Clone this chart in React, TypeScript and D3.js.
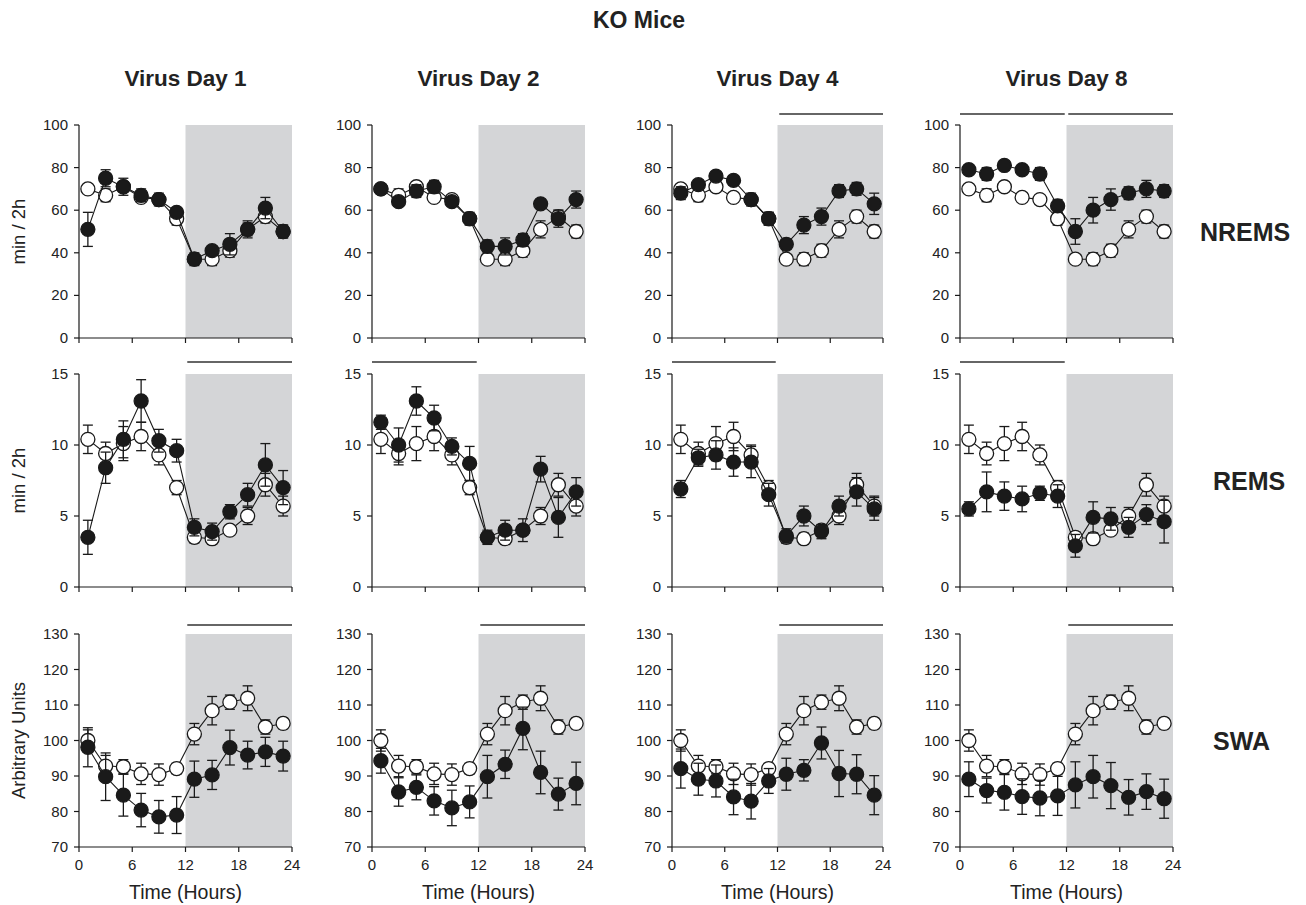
import React from 'react';
import * as d3 from 'd3';

// time bins (mid-point of each 2 h block)
const hours = [1, 3, 5, 7, 9, 11, 13, 15, 17, 19, 21, 23];
const xTicks = [0, 6, 12, 18, 24];
const dayTitles = ['Virus Day 1', 'Virus Day 2', 'Virus Day 4', 'Virus Day 8'];

// NREMS, min / 2h
const nremsBase = [70, 67, 71, 66, 65, 56, 37, 37, 41, 51, 57, 50];
const nremsBaseErr = [2, 3, 2, 2, 2, 3, 2, 3, 3, 4, 3, 3];
const nremsDay1 = [51, 75, 71, 67, 65, 59, 37, 41, 44, 51, 61, 50];
const nremsDay1Err = [8, 4, 4, 3, 3, 2, 3, 2, 5, 3, 5, 3];
const nremsDay2 = [70, 64, 69, 71, 64, 56, 43, 43, 46, 63, 56, 65];
const nremsDay2Err = [2, 2, 3, 3, 2, 2, 3, 4, 3, 2, 4, 4];
const nremsDay4 = [68, 72, 76, 74, 65, 56, 44, 53, 57, 69, 70, 63];
const nremsDay4Err = [3, 2, 2, 2, 3, 3, 2, 4, 4, 3, 3, 5];
const nremsDay8 = [79, 77, 81, 79, 77, 62, 50, 60, 65, 68, 70, 69];
const nremsDay8Err = [2, 3, 2, 2, 3, 3, 6, 6, 5, 3, 4, 3];

// REMS, min / 2h
const remsBase = [10.4, 9.4, 10.1, 10.6, 9.3, 7.0, 3.5, 3.4, 4.0, 5.0, 7.2, 5.7];
const remsBaseErr = [1.0, 0.8, 1.2, 1.0, 0.7, 0.5, 0.4, 0.4, 0.3, 0.6, 0.8, 0.7];
const remsDay1 = [3.5, 8.4, 10.4, 13.1, 10.3, 9.6, 4.2, 3.9, 5.3, 6.5, 8.6, 7.0];
const remsDay1Err = [1.2, 1.1, 1.3, 1.5, 0.8, 0.8, 0.6, 0.6, 0.5, 0.8, 1.5, 1.2];
const remsDay2 = [11.6, 10.0, 13.1, 11.9, 9.9, 8.7, 3.5, 4.0, 4.0, 8.3, 4.9, 6.7];
const remsDay2Err = [0.5, 1.2, 1.0, 0.9, 0.6, 1.2, 0.5, 0.7, 0.8, 0.9, 1.4, 1.0];
const remsDay4 = [6.9, 9.1, 9.3, 8.8, 8.8, 6.5, 3.6, 5.0, 3.9, 5.7, 6.7, 5.5];
const remsDay4Err = [0.6, 0.6, 1.0, 1.0, 1.1, 0.8, 0.5, 0.7, 0.5, 0.7, 1.0, 0.8];
const remsDay8 = [5.5, 6.7, 6.4, 6.2, 6.6, 6.4, 2.9, 4.9, 4.8, 4.2, 5.1, 4.6];
const remsDay8Err = [0.5, 1.4, 1.0, 0.9, 0.5, 0.8, 0.8, 1.1, 0.8, 0.7, 0.7, 1.5];

// SWA, arbitrary units
const swaBase = [100, 92.8, 92.6, 90.6, 90.4, 92.1, 101.8, 108.4, 110.8, 111.9, 103.8, 104.8];
const swaBaseErr = [3, 3, 2, 3, 3, 1.5, 3, 4, 2, 3.5, 2, 1.5];
const swaDay1 = [98.1, 89.8, 84.6, 80.4, 78.5, 79.0, 89.1, 90.3, 98.0, 95.9, 96.8, 95.6];
const swaDay1Err = [5.5, 6.7, 5.9, 4.7, 4.6, 5.2, 5.1, 4.1, 4.9, 3.9, 4.1, 4.2];
const swaDay2 = [94.3, 85.5, 86.8, 83.0, 81.0, 82.7, 89.8, 93.3, 103.4, 91.0, 84.9, 87.9];
const swaDay2Err = [3.5, 4, 3.5, 4, 5, 4.5, 6, 4, 6, 6, 4.5, 6];
const swaDay4 = [92.1, 89.1, 88.6, 84.1, 82.9, 88.6, 90.5, 91.6, 99.3, 90.7, 90.5, 84.6];
const swaDay4Err = [5.5, 4.5, 4.5, 5, 5, 3.5, 4.5, 3, 4.5, 6.5, 5.5, 5.5];
const swaDay8 = [89.1, 85.9, 85.4, 84.2, 83.8, 84.4, 87.5, 89.8, 87.3, 84.0, 85.6, 83.6];
const swaDay8Err = [4.9, 3.5, 5, 5, 5, 5.5, 6.5, 6, 6.5, 5, 5, 5.5];

// significance bars (hours) per day column
const nremsSig = [[], [], [[12.2, 24]], [[0, 11.8], [12.2, 24]]];
const remsSig = [[[12.2, 24]], [[0, 11.8]], [[0, 11.8]], [[0, 11.8]]];
const swaSig = [[[12.2, 24]], [[12.2, 24]], [[12.2, 24]], [[12.2, 24]]];

const rows = [
  {
    label: 'NREMS', labelX: 1200, yLabel: 'min / 2h', domain: [0, 100], ticks: [0, 20, 40, 60, 80, 100],
    base: nremsBase, baseErr: nremsBaseErr,
    virus: [nremsDay1, nremsDay2, nremsDay4, nremsDay8],
    virusErr: [nremsDay1Err, nremsDay2Err, nremsDay4Err, nremsDay8Err],
    sig: nremsSig
  },
  {
    label: 'REMS', labelX: 1213, yLabel: 'min / 2h', domain: [0, 15], ticks: [0, 5, 10, 15],
    base: remsBase, baseErr: remsBaseErr,
    virus: [remsDay1, remsDay2, remsDay4, remsDay8],
    virusErr: [remsDay1Err, remsDay2Err, remsDay4Err, remsDay8Err],
    sig: remsSig
  },
  {
    label: 'SWA', labelX: 1213, yLabel: 'Arbitrary Units', domain: [70, 130], ticks: [70, 80, 90, 100, 110, 120, 130],
    base: swaBase, baseErr: swaBaseErr,
    virus: [swaDay1, swaDay2, swaDay4, swaDay8],
    virusErr: [swaDay1Err, swaDay2Err, swaDay4Err, swaDay8Err],
    sig: swaSig
  }
];

const colLeft = [79, 372, 672, 960];
const colWidth = [213, 213, 211, 213];
const rowTop = [125, 374, 634];
const plotH = 213;
const sigY = [114, 362, 625];

const font = 'Arial, "Liberation Sans", Helvetica, sans-serif';
const ink = '#1a1a1a';

function Series({ values, errs, x, y, filled }) {
  const line = d3.line<number>().x((d, i) => x(hours[i])).y(d => y(d));
  return (
    <g>
      <path d={line(values)!} fill="none" stroke={ink} strokeWidth={1.1} />
      {values.map((v, i) => {
        const cx = x(hours[i]);
        const top = y(v + errs[i]);
        const bot = y(v - errs[i]);
        return (
          <g key={'e' + i} stroke={ink} strokeWidth={1.3}>
            <line x1={cx} x2={cx} y1={top} y2={bot} />
            <line x1={cx - 5} x2={cx + 5} y1={top} y2={top} />
            <line x1={cx - 5} x2={cx + 5} y1={bot} y2={bot} />
          </g>
        );
      })}
      {values.map((v, i) => (
        <circle
          key={'c' + i}
          cx={x(hours[i])}
          cy={y(v)}
          r={7}
          fill={filled ? ink : '#fff'}
          stroke={ink}
          strokeWidth={1.3}
        />
      ))}
    </g>
  );
}

function Panel({ row, r, c }) {
  const left = colLeft[c];
  const w = colWidth[c];
  const top = rowTop[r];
  const x = d3.scaleLinear().domain([0, 24]).range([left, left + w]);
  const y = d3.scaleLinear().domain(row.domain).range([top + plotH, top]);
  const bottom = top + plotH;
  return (
    <g>
      <rect x={x(12)} y={top} width={x(24) - x(12)} height={plotH} fill="#d4d5d7" />
      {row.sig[c].map((s, i) => (
        <line key={i} x1={x(s[0])} x2={x(s[1])} y1={sigY[r]} y2={sigY[r]} stroke="#333" strokeWidth={1.6} />
      ))}
      {/* y axis */}
      <line x1={left} x2={left} y1={top} y2={bottom} stroke={ink} strokeWidth={1.2} />
      {row.ticks.map(t => (
        <g key={t}>
          <line x1={left - 5} x2={left} y1={y(t)} y2={y(t)} stroke={ink} strokeWidth={1.2} />
          <text x={left - 11} y={y(t) + 5} textAnchor="end" fontSize={15} fontFamily={font} fill="#222">
            {t}
          </text>
        </g>
      ))}
      {/* x axis */}
      <line x1={left} x2={x(24)} y1={bottom} y2={bottom} stroke={ink} strokeWidth={1.2} />
      {xTicks.map(t => (
        <g key={t}>
          <line x1={x(t)} x2={x(t)} y1={bottom} y2={bottom + 5} stroke={ink} strokeWidth={1.2} />
          {r === 2 && (
            <text x={x(t)} y={bottom + 23} textAnchor="middle" fontSize={15} fontFamily={font} fill="#222">
              {t}
            </text>
          )}
        </g>
      ))}
      {r === 2 && (
        <text x={x(12)} y={bottom + 52} textAnchor="middle" fontSize={19.5} fontFamily={font} fill="#222">
          Time (Hours)
        </text>
      )}
      <Series values={row.base} errs={row.baseErr} x={x} y={y} filled={false} />
      <Series values={row.virus[c]} errs={row.virusErr[c]} x={x} y={y} filled={true} />
    </g>
  );
}

export default function App() {
  return (
    <svg
      width={1306}
      height={905}
      style={{ position: 'absolute', left: 0, top: 0, background: '#fff' }}
    >
      <rect width={1306} height={905} fill="#fff" />
      <text x={639} y={28} textAnchor="middle" fontSize={23} fontWeight="bold" fontFamily={font} fill="#222">
        KO Mice
      </text>
      {dayTitles.map((t, c) => (
        <text
          key={t}
          x={colLeft[c] + colWidth[c] / 2}
          y={86}
          textAnchor="middle"
          fontSize={22.5}
          fontWeight="bold"
          fontFamily={font}
          fill="#222"
        >
          {t}
        </text>
      ))}
      {rows.map((row, r) => (
        <g key={row.label}>
          <text
            x={row.labelX}
            y={rowTop[r] + plotH / 2 + 9.5}
            fontSize={25}
            fontWeight="bold"
            fontFamily={font}
            fill="#222"
          >
            {row.label}
          </text>
          <text
            transform={`translate(25, ${rowTop[r] + plotH / 2}) rotate(-90)`}
            textAnchor="middle"
            fontSize={18.5}
            fontFamily={font}
            fill="#222"
          >
            {row.yLabel}
          </text>
          {dayTitles.map((d, c) => (
            <Panel key={d} row={row} r={r} c={c} />
          ))}
        </g>
      ))}
    </svg>
  );
}
